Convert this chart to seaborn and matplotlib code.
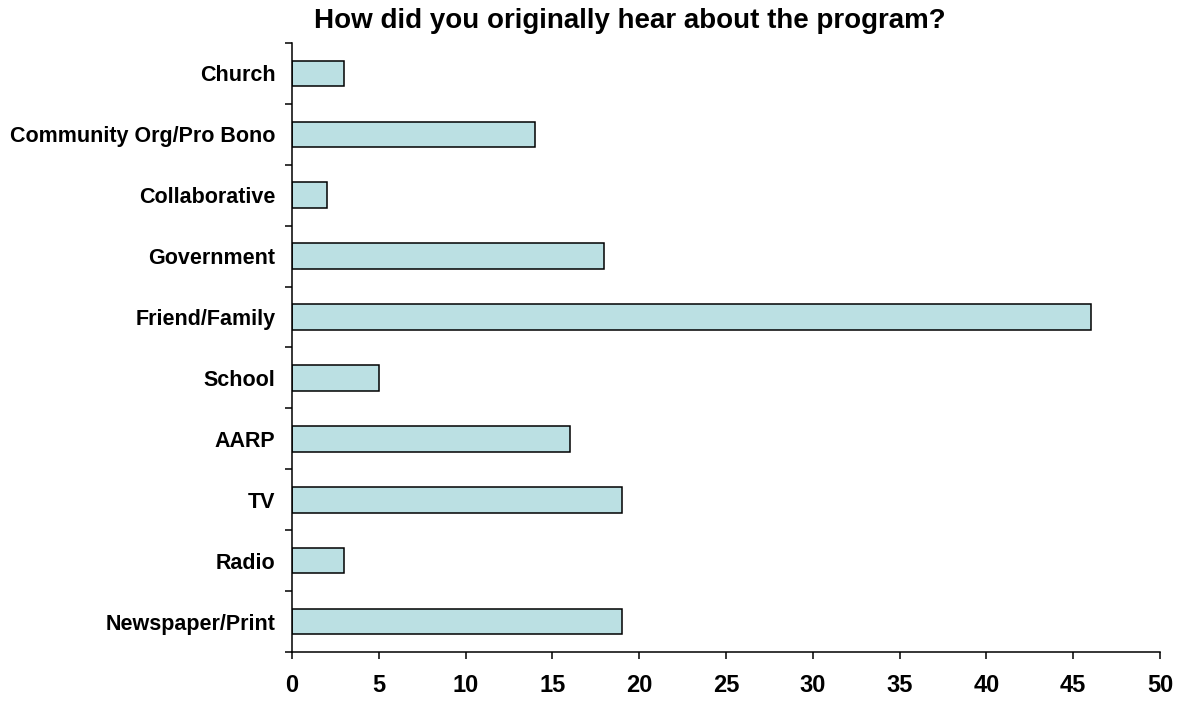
import matplotlib
matplotlib.use("Agg")
import matplotlib.pyplot as plt
import seaborn as sns
import pandas as pd
import numpy as np

categories = ["Church", "Community Org/Pro Bono", "Collaborative", "Government",
              "Friend/Family", "School", "AARP", "TV", "Radio", "Newspaper/Print"]
counts = [3, 14, 2, 18, 46, 5, 16, 19, 3, 19]
x_ticks = [0, 5, 10, 15, 20, 25, 30, 35, 40, 45, 50]
title = "How did you originally hear about the program?"

sns.set_theme(style="white")
plt.rcParams['font.family'] = ['Liberation Sans', 'DejaVu Sans']
plt.rcParams['text.color'] = 'black'
plt.rcParams['xtick.color'] = 'black'
plt.rcParams['ytick.color'] = 'black'
plt.rcParams['axes.labelcolor'] = 'black'

df = pd.DataFrame({"source": categories, "count": counts})

fig = plt.figure(figsize=(11.78, 7.07), dpi=100)
ax = fig.add_axes([292/1178, 1 - 652/707, (1160-292)/1178, (652-43)/707])

sns.barplot(data=df, y="source", x="count", order=categories, orient="h",
            color="#BBE0E3", edgecolor="black", linewidth=1.1, width=0.42,
            saturation=1, ax=ax)

ax.set_xlim(0, 50)
ax.set_ylim(len(categories) - 0.5, -0.5)
ax.set_xticks(x_ticks)
ax.set_xticklabels([str(t) for t in x_ticks], fontsize=17, fontweight="bold", color="black")
ax.set_yticks(range(len(categories)))
ax.set_yticklabels(categories, fontsize=15.5, fontweight="bold", color="black")
ax.set_yticks(np.arange(-0.5, len(categories), 1.0), minor=True)
ax.tick_params(axis="y", which="major", length=0, pad=12)
ax.tick_params(axis="y", which="minor", length=5, width=1.1, direction="out", left=True, color="black")
ax.tick_params(axis="x", which="major", length=5, width=1.1, direction="out", bottom=True, pad=10.5, color="black")
ax.set_xlabel("")
ax.set_ylabel("")
ax.grid(False)
for s in ["top", "right"]:
    ax.spines[s].set_visible(False)
for s in ["left", "bottom"]:
    ax.spines[s].set_color("black")
    ax.spines[s].set_linewidth(1.1)

fig.text(630/1178, 1 - 21/707, title, ha="center", va="center",
         fontsize=20, fontweight="bold", color="black")

fig.savefig("out.png", dpi=100, facecolor="white")
